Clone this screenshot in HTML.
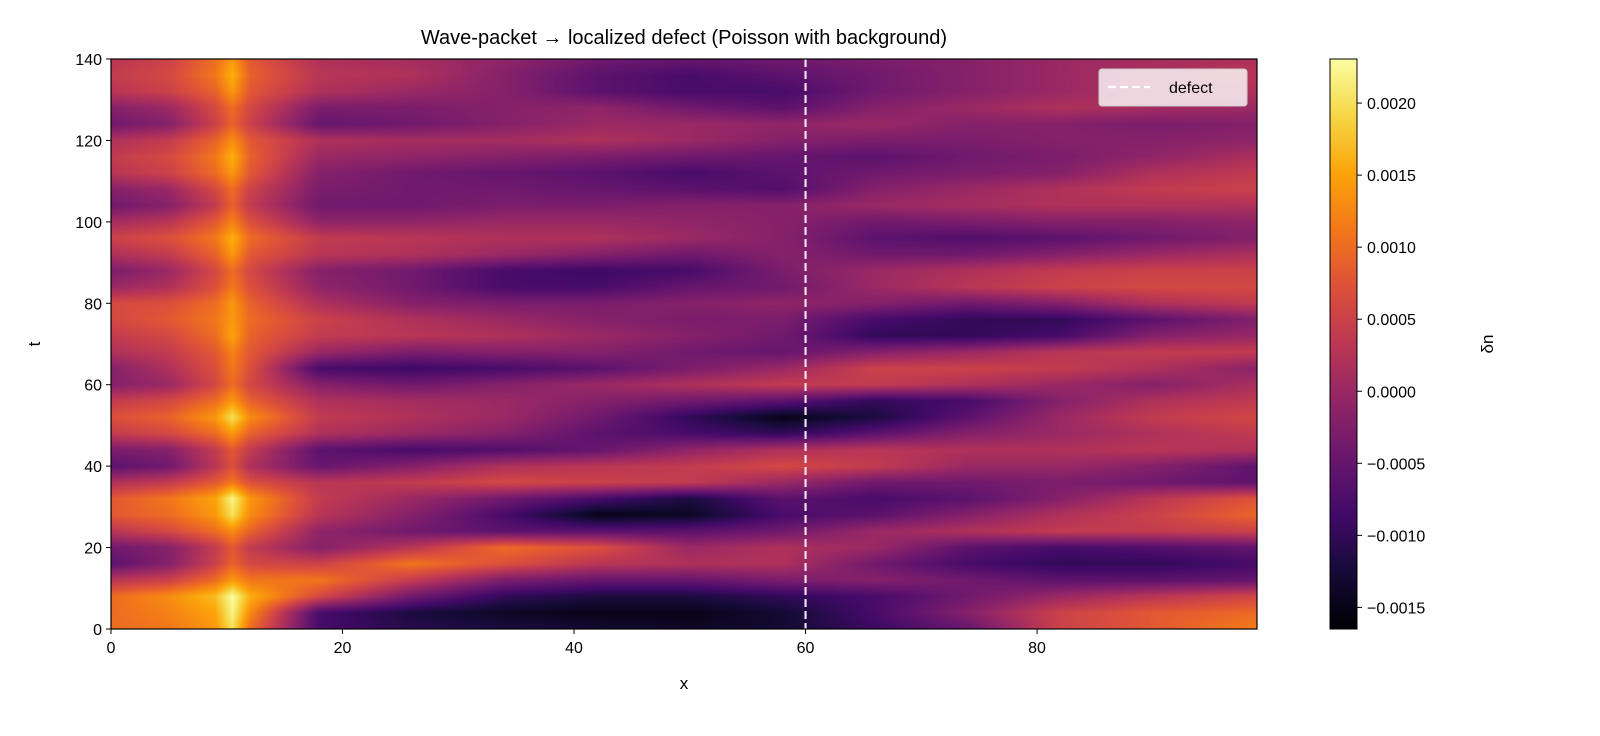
<!DOCTYPE html>
<html><head><meta charset="utf-8"><style>
body{margin:0;background:#fff;width:1600px;height:736px;overflow:hidden;font-family:"Liberation Sans","DejaVu Sans",sans-serif}
#wrap{position:relative;width:1600px;height:736px}
canvas{position:absolute}
svg{position:absolute;left:0;top:0}
</style></head><body>
<div id="wrap">
<canvas id="hm" width="1146" height="570" style="left:111px;top:59px"></canvas>
<canvas id="cb" width="27" height="570" style="left:1330px;top:59px"></canvas>
<svg id="ov" width="1600" height="736"></svg>
</div>
<script>
// data (units of 1e-4)
const xNodes=[0,5,9,10.5,12,18,26,34,42,50,58,66,74,82,90,100];
const tNodes=[0,4,8,12,16,20,24,28,32,36,40,44,48,52,56,60,64,68,72,76,80,84,88,92,96,100,104,108,112,116,120,124,128,132,136,140];
const field=[
[10,11,14,20,10,-8,-11,-12,-13,-14,-13,-9,-5,5,8,12],
[10,12,15,22,13,-8,-12,-14,-15,-15,-13,-8,-2,5,8,10],
[10,13,17,23,16,6,-4,-10,-12,-12,-10,-8,-4,0,3,6],
[3,5,10,14,11,11,4,-3,-5,-5,-3,-2,-4,-6,-6,-5],
[-6,-2,5,9,6,5,11,7,3,2,2,-4,-8,-10,-10,-8],
[-4,-2,4,8,4,-2,3,10,7,0,2,0,-6,-8,-7,-5],
[3,6,10,13,9,-1,-4,-6,-6,-6,-4,0,2,4,4,5],
[8,10,14,20,13,3,-2,-8,-15,-14,-8,-6,-2,2,5,10],
[8,11,15,22,14,4,0,-4,-8,-12,-6,-8,-6,-2,3,8],
[2,4,8,11,7,3,4,6,5,4,0,-4,-4,-3,-4,-6],
[-6,-4,3,7,2,-5,-2,2,3,4,6,4,0,0,-2,-6],
[-3,-2,4,8,4,-6,-8,-7,-5,-1,2,3,2,2,3,2],
[4,6,10,14,9,2,0,-2,-6,-8,-10,-6,-2,0,2,4],
[7,9,14,20,13,4,2,0,-4,-10,-15,-12,-6,0,4,6],
[4,6,10,14,9,2,1,0,-2,-4,-6,-10,-8,-2,2,4],
[-2,0,6,10,6,-2,-4,-2,0,2,4,4,2,0,-2,2],
[-2,2,7,11,7,-8,-9,-8,-6,-3,0,5,5,4,2,-2],
[2,4,8,12,8,0,-3,-2,-2,-4,-5,-2,0,3,4,4],
[4,6,10,15,9,4,3,2,0,-2,-4,-10,-10,-8,-2,0],
[6,8,11,14,10,5,2,0,-2,-3,-3,-8,-10,-10,-6,-2],
[6,7,10,14,9,2,-2,-3,-3,-2,-1,-2,-4,-2,2,4],
[0,2,7,11,7,-1,-4,-8,-8,-5,-4,0,3,5,6,6],
[-3,0,6,10,6,-2,-4,-8,-9,-8,-3,0,2,4,5,5],
[2,4,9,14,8,3,2,0,-2,-4,-2,-4,-4,-2,0,2],
[5,7,11,16,10,4,3,2,2,0,-2,-6,-7,-6,-4,-2],
[1,3,8,12,7,-1,-1,0,0,-1,-2,-4,-3,-2,-2,-1],
[-4,-2,4,9,4,-4,-4,-3,-3,-2,-2,0,1,2,2,2],
[-2,0,6,10,5,-3,-4,-4,-5,-6,-7,-2,0,2,4,5],
[3,5,10,14,8,-2,-4,-5,-6,-8,-6,-4,-3,-2,2,4],
[4,6,11,16,9,0,-1,-2,-3,-4,-5,-6,-4,-3,-1,2],
[2,4,9,13,8,2,1,1,2,0,-2,-3,-3,-2,-2,-1],
[-4,-2,5,9,5,-5,-4,-2,0,0,-1,0,-2,-2,-3,-2],
[-2,0,6,10,6,-3,-3,-2,-1,-4,-6,-2,0,2,1,0],
[3,5,9,14,8,2,0,-2,-6,-8,-8,-4,-2,0,2,2],
[4,6,11,16,9,3,2,-2,-6,-8,-6,-4,-2,0,2,3],
[3,5,10,14,8,2,1,-1,-4,-5,-4,-3,-2,0,1,2]
];
const cbTicks=[-0.0015,-0.0010,-0.0005,0.0000,0.0005,0.0010,0.0015,0.0020];
const xTicks=[0,20,40,60,80];
const yTicks=[0,20,40,60,80,100,120,140];
const vmin=-16.5,vmax=23.06;
const X0=111,X1=1257,Y0=629,Y1=59,XMAX=99,TMAX=140;
const sx=x=>X0+x*(X1-X0)/XMAX, sy=t=>Y0-t*(Y0-Y1)/TMAX;
const inf=[[0,0,4],[22,11,57],[66,10,104],[106,23,110],[147,38,103],[188,55,84],[221,81,58],[243,120,25],[252,165,10],[246,215,70],[252,255,164]];
function cmap(v){let u=(v-vmin)/(vmax-vmin);u=Math.max(0,Math.min(1,u))*10;let i=Math.min(9,Math.floor(u)),f=u-i;const a=inf[i],b=inf[i+1];return [a[0]+(b[0]-a[0])*f,a[1]+(b[1]-a[1])*f,a[2]+(b[2]-a[2])*f];}
function idx(arr,v){let i=0;while(i<arr.length-2&&arr[i+1]<v)i++;return [i,Math.max(0,Math.min(1,(v-arr[i])/(arr[i+1]-arr[i])))];}
function val(x,t){const [i,fx]=idx(xNodes,x),[j,ft]=idx(tNodes,t);
const a=field[j][i],b=field[j][i+1],c=field[j+1][i],d=field[j+1][i+1];
return (a*(1-fx)+b*fx)*(1-ft)+(c*(1-fx)+d*fx)*ft;}
(function(){const cv=document.getElementById('hm'),ctx=cv.getContext('2d');const W=cv.width,H=cv.height;const im=ctx.createImageData(W,H);
for(let py=0;py<H;py++){const t=(H-py-0.5)/H*TMAX;for(let px=0;px<W;px++){const x=(px+0.5)/W*XMAX;const c=cmap(val(x,t));const k=(py*W+px)*4;im.data[k]=c[0];im.data[k+1]=c[1];im.data[k+2]=c[2];im.data[k+3]=255;}}
ctx.putImageData(im,0,0);
const cb=document.getElementById('cb'),c2=cb.getContext('2d');for(let py=0;py<570;py++){const v=vmax-(py+0.5)/570*(vmax-vmin);const c=cmap(v);c2.fillStyle=`rgb(${c[0]|0},${c[1]|0},${c[2]|0})`;c2.fillRect(0,py,27,1);}})();
const NS='http://www.w3.org/2000/svg',ov=document.getElementById('ov');
function mk(tag,at,txt){const e=document.createElementNS(NS,tag);for(const k in at)e.setAttribute(k,at[k]);if(txt!==undefined)e.textContent=txt;ov.appendChild(e);return e;}
let e;
e=mk('line',{x1:sx(60),x2:sx(60),y1:Y1,y2:Y0,stroke:'#f0e0f0','stroke-width':2.2,'stroke-dasharray':'8,4'});


e=mk('rect',{x:X0,y:Y1,width:X1-X0,height:Y0-Y1,fill:'none',stroke:'#000','stroke-width':1.2});


xTicks.forEach(v=>{mk('line',{x1:sx(v),x2:sx(v),y1:Y0,y2:Y0+5,stroke:'#000'});
e=mk('text',{x:sx(v),y:Y0+24,'text-anchor':'middle','font-size':16},String(v));

});
yTicks.forEach(v=>{mk('line',{x1:X0-5,x2:X0,y1:sy(v),y2:sy(v),stroke:'#000'});
e=mk('text',{x:X0-9,y:sy(v)+6,'text-anchor':'end','font-size':16},String(v));

});
e=mk('text',{x:684,y:689,'text-anchor':'middle','font-size':17},'x');


e=mk('text',{x:40,y:344,'text-anchor':'middle','font-size':17,transform:'rotate(-90 40 344)'},'t');


e=mk('text',{x:684,y:44,'text-anchor':'middle','font-size':20},'Wave-packet → localized defect (Poisson with background)');


e=mk('rect',{x:1330,y:59,width:27,height:570,fill:'none',stroke:'#000','stroke-width':1});


cbTicks.forEach(v=>{const y=59+(vmax-v*1e4)/(vmax-vmin)*570;mk('line',{x1:1357,x2:1362,y1:y,y2:y,stroke:'#000'});
e=mk('text',{x:1367,y:y+6,'font-size':16},v.toFixed(4).replace('-','−'));

});
e=mk('text',{x:1493,y:344,'text-anchor':'middle','font-size':17,transform:'rotate(-90 1493 344)'},'δn');


e=mk('rect',{x:1099,y:69,width:148,height:37,rx:3,fill:'rgba(255,255,255,0.8)',stroke:'#ccc'});


e=mk('line',{x1:1108,x2:1150,y1:87,y2:87,stroke:'#fff','stroke-width':2.2,'stroke-dasharray':'8,4'});


e=mk('text',{x:1169,y:93,'font-size':16},'defect');


</script>
</body></html>
